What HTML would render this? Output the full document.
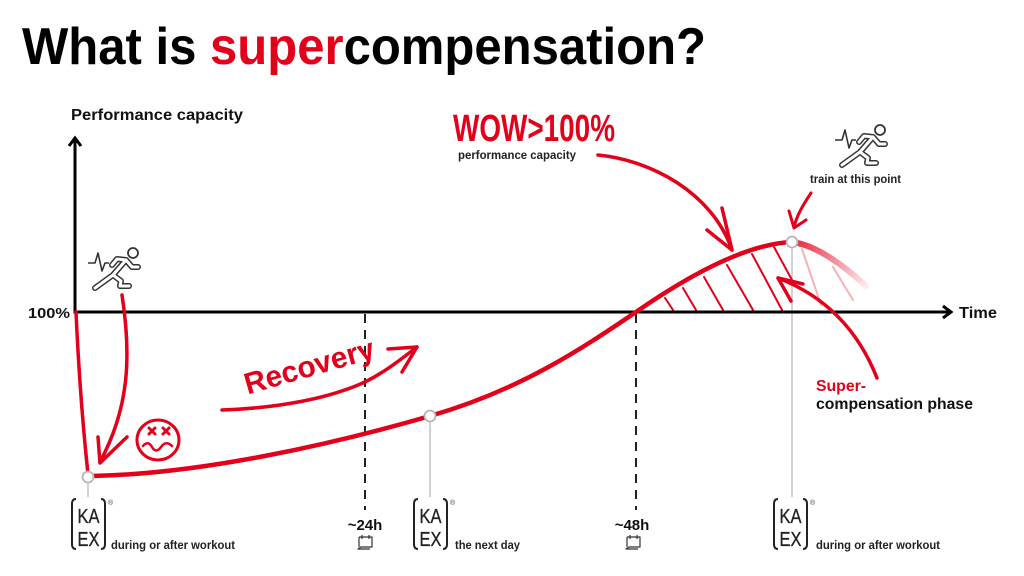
<!DOCTYPE html>
<html><head><meta charset="utf-8"><style>
html,body{margin:0;padding:0;background:#fff;}
svg{display:block;}
text{font-family:"Liberation Sans",Arial,sans-serif;}
</style></head><body>
<svg width="1024" height="576" viewBox="0 0 1024 576" xmlns="http://www.w3.org/2000/svg">
<defs>
<linearGradient id="fade" x1="792" y1="242" x2="866" y2="286" gradientUnits="userSpaceOnUse">
<stop offset="0" stop-color="#e2001a" stop-opacity="0.85"/>
<stop offset="1" stop-color="#e2001a" stop-opacity="0.08"/>
</linearGradient>
<g id="runner">
<path d="M-7,7 L-20,22 M-7,7 L-1,14 L5,14 M-7,7 L-16,6 L-21,12 M-20,22 L-38,35 M-20,22 L-12,28 L-13,33 M-13,33 L-4,33" fill="none" stroke="#333" stroke-width="6" stroke-linecap="round" stroke-linejoin="round"/>
<path d="M-7,7 L-20,22 M-7,7 L-1,14 L5,14 M-7,7 L-16,6 L-21,12 M-20,22 L-38,35 M-20,22 L-12,28 L-13,33 M-13,33 L-4,33" fill="none" stroke="#fff" stroke-width="3" stroke-linecap="round" stroke-linejoin="round"/>
<circle cx="0" cy="0" r="5" fill="none" stroke="#333" stroke-width="1.8"/>
<path d="M-45,10 H-38 L-35,0 L-31,18 L-28,10 H-24" fill="none" stroke="#333" stroke-width="1.6" stroke-linejoin="round"/>
</g>
<g id="kaex">
<path d="M5,0 Q1,0 1,5 V45 Q1,50 5,50" fill="none" stroke="#222" stroke-width="2"/>
<path d="M30,0 Q34,0 34,5 V45 Q34,50 30,50" fill="none" stroke="#222" stroke-width="2"/>
<text x="17.5" y="24" font-size="20" text-anchor="middle" textLength="22" lengthAdjust="spacingAndGlyphs" fill="#222" stroke="#222" stroke-width="0.3">KA</text>
<text x="17.5" y="47" font-size="20" text-anchor="middle" textLength="22" lengthAdjust="spacingAndGlyphs" fill="#222" stroke="#222" stroke-width="0.3">EX</text>
<text x="37" y="6" font-size="7" fill="#444">®</text>
</g>
<g id="cal">
<path d="M1,2 H14 V12 H3 L0,14 H12" fill="none" stroke="#333" stroke-width="1.2" stroke-linejoin="round"/>
<path d="M1,2 V12 M4,0 V4 M11,0 V4" fill="none" stroke="#333" stroke-width="1.2"/>
</g>
</defs>

<!-- Title -->
<text x="22" y="64" font-size="52" font-weight="bold" fill="#000" textLength="684" lengthAdjust="spacingAndGlyphs">What is <tspan fill="#e2001a">super</tspan>compensation?</text>

<!-- Axis labels -->
<text x="71" y="120" font-size="16" font-weight="bold" fill="#111" textLength="172" lengthAdjust="spacingAndGlyphs">Performance capacity</text>
<text x="28" y="318" font-size="15" font-weight="bold" fill="#111" textLength="42" lengthAdjust="spacingAndGlyphs">100%</text>
<text x="959" y="318" font-size="16" font-weight="bold" fill="#111" textLength="38" lengthAdjust="spacingAndGlyphs">Time</text>

<!-- Dashed lines -->
<line x1="365" y1="314" x2="365" y2="510" stroke="#222" stroke-width="2" stroke-dasharray="9,7"/>
<line x1="636" y1="314" x2="636" y2="510" stroke="#222" stroke-width="2" stroke-dasharray="9,7"/>

<!-- Gray drop lines -->
<line x1="88" y1="477" x2="88" y2="497" stroke="#c4c4c4" stroke-width="1.5"/>
<line x1="430" y1="416" x2="430" y2="497" stroke="#c4c4c4" stroke-width="1.5"/>
<line x1="792" y1="242" x2="792" y2="497" stroke="#c4c4c4" stroke-width="1.5"/>

<!-- Hatching -->
<g stroke="#e2001a" stroke-width="2" stroke-linecap="round">
<line x1="665" y1="298" x2="673" y2="310"/>
<line x1="683" y1="288" x2="696" y2="310"/>
<line x1="704" y1="277" x2="723" y2="310"/>
<line x1="727" y1="265" x2="753" y2="310"/>
<line x1="752" y1="254" x2="782" y2="310"/>
<line x1="774" y1="247" x2="792" y2="280"/>
</g>
<g stroke="#e2001a" stroke-width="2" stroke-linecap="round" opacity="0.3">
<line x1="802" y1="249" x2="821" y2="305"/>
<line x1="833" y1="267" x2="853" y2="300"/>
</g>

<!-- Axes -->
<line x1="75" y1="139" x2="75" y2="313.5" stroke="#000" stroke-width="3"/>
<path d="M69,146 L75,138 L81,146" fill="none" stroke="#000" stroke-width="3" stroke-linejoin="miter"/>
<line x1="74" y1="312" x2="950" y2="312" stroke="#000" stroke-width="3"/>
<path d="M943,306 L951,312 L943,318" fill="none" stroke="#000" stroke-width="3"/>

<!-- Main curve -->
<path d="M76,312 Q80,400 88,474" fill="none" stroke="#e2001a" stroke-width="3.5" stroke-linecap="round"/>
<path d="M92,476 C200,474 330,445 430,416 C520,390 580,350 636,312 C685,278 745,244 792,242" fill="none" stroke="#e2001a" stroke-width="4.5" stroke-linecap="round"/>
<path d="M792,242 C815,245 840,262 866,286" fill="none" stroke="url(#fade)" stroke-width="6" stroke-linecap="round"/>

<!-- Nodes -->
<circle cx="88" cy="477" r="5.5" fill="#fff" stroke="#b5b5b5" stroke-width="1.8"/>
<circle cx="430" cy="416" r="5.5" fill="#fff" stroke="#b5b5b5" stroke-width="1.8"/>
<circle cx="792" cy="242" r="5.5" fill="#fff" stroke="#b5b5b5" stroke-width="1.8"/>

<!-- Runner icons -->
<use href="#runner" transform="translate(133,253)"/>
<use href="#runner" transform="translate(880,130)"/>

<!-- Left arrow from runner -->
<path d="M122,295 C132,360 128,410 100,462" fill="none" stroke="#e2001a" stroke-width="3.5" stroke-linecap="round"/>
<path d="M98,437 L100,463 L127,437" fill="none" stroke="#e2001a" stroke-width="3.5" stroke-linecap="round" stroke-linejoin="round"/>

<!-- Dizzy face -->
<g fill="none" stroke="#e2001a" stroke-width="3" stroke-linecap="round">
<ellipse cx="158" cy="440" rx="21" ry="20"/>
<path d="M149,428 L155,434 M155,428 L149,434 M163,428 L169,434 M169,428 L163,434"/>
<path d="M143,446 Q148,440 152,447 T161,447 T172,446" stroke-width="2.5"/>
</g>

<!-- Recovery -->
<text transform="translate(312,376) rotate(-16)" font-size="30" font-weight="bold" fill="#e2001a" text-anchor="middle" textLength="134" lengthAdjust="spacingAndGlyphs">Recovery</text>
<path d="M222,410 C280,408 330,398 365,382 C385,372 400,360 417,347" fill="none" stroke="#e2001a" stroke-width="3.5" stroke-linecap="round"/>
<path d="M388,349 L417,347 L402,372" fill="none" stroke="#e2001a" stroke-width="3.5" stroke-linecap="round" stroke-linejoin="round"/>

<!-- WOW -->
<text x="453" y="141" font-size="38" font-weight="bold" fill="#e2001a" textLength="162" lengthAdjust="spacingAndGlyphs" font-family="'DejaVu Sans Condensed','Liberation Sans',sans-serif">WOW&gt;100%</text>
<text x="458" y="159" font-size="11.5" font-weight="bold" fill="#222" textLength="118" lengthAdjust="spacingAndGlyphs">performance capacity</text>
<path d="M598,155 C650,160 712,192 732,250" fill="none" stroke="#e2001a" stroke-width="3.5" stroke-linecap="round"/>
<path d="M707,230 L732,250 L722,208" fill="none" stroke="#e2001a" stroke-width="3.5" stroke-linecap="round" stroke-linejoin="round"/>

<!-- train at this point -->
<text x="810" y="183" font-size="11.5" font-weight="bold" fill="#222" textLength="91" lengthAdjust="spacingAndGlyphs">train at this point</text>
<path d="M811,193 C803,205 797,215 794,227" fill="none" stroke="#e2001a" stroke-width="3" stroke-linecap="round"/>
<path d="M789,211 L794,228 L806,220" fill="none" stroke="#e2001a" stroke-width="3" stroke-linecap="round" stroke-linejoin="round"/>

<!-- Super-compensation arrow -->
<path d="M877,378 C860,335 830,298 778,278" fill="none" stroke="#e2001a" stroke-width="3.5" stroke-linecap="round"/>
<path d="M803,284 L778,278 L791,301" fill="none" stroke="#e2001a" stroke-width="3.5" stroke-linecap="round" stroke-linejoin="round"/>
<text x="816" y="391" font-size="16" font-weight="bold" fill="#e2001a" textLength="50" lengthAdjust="spacingAndGlyphs">Super-</text>
<text x="816" y="409" font-size="16" font-weight="bold" fill="#111" textLength="157" lengthAdjust="spacingAndGlyphs">compensation phase</text>

<!-- Time markers -->
<text x="365" y="530" font-size="15" font-weight="bold" fill="#111" text-anchor="middle">~24h</text>
<use href="#cal" transform="translate(358,535)"/>
<text x="632" y="530" font-size="15" font-weight="bold" fill="#111" text-anchor="middle">~48h</text>
<use href="#cal" transform="translate(626,535)"/>

<!-- KAEX logos -->
<use href="#kaex" transform="translate(71,499)"/>
<text x="111" y="549" font-size="11.5" font-weight="bold" fill="#222" textLength="124" lengthAdjust="spacingAndGlyphs">during or after workout</text>
<use href="#kaex" transform="translate(413,499)"/>
<text x="455" y="549" font-size="11.5" font-weight="bold" fill="#222" textLength="65" lengthAdjust="spacingAndGlyphs">the next day</text>
<use href="#kaex" transform="translate(773,499)"/>
<text x="816" y="549" font-size="11.5" font-weight="bold" fill="#222" textLength="124" lengthAdjust="spacingAndGlyphs">during or after workout</text>
</svg>
</body></html>
